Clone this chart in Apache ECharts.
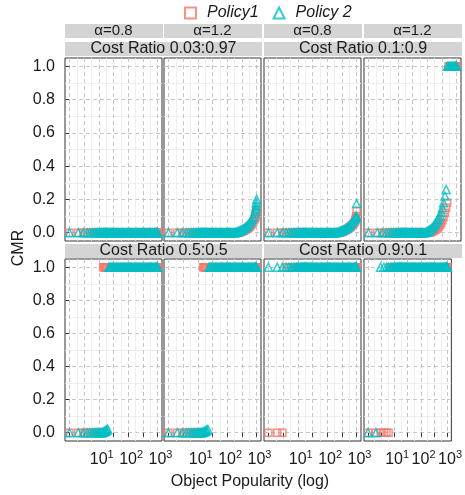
<!DOCTYPE html>
<html>
<head>
<meta charset="utf-8">
<script src="https://cdn.jsdelivr.net/npm/echarts@6/dist/echarts.min.js"></script>
<style>
html, body { margin: 0; padding: 0; background: #fff; }
#chart { width: 465px; height: 495px; }
</style>
</head>
<body>
<div id="chart"></div>
<script>
// Object popularity (request count) sampled along the x axis
const popularity = [
  1, 2, 3, 4, 5, 6, 7, 8, 9, 10,
  11, 12, 13, 14, 15, 16, 17, 18, 19, 20,
  22, 24, 26, 28, 30, 33, 36, 40, 44, 48,
  53, 58, 64, 70, 77, 85, 93, 100, 110, 120,
  130, 145, 160, 175, 190, 210, 230, 250, 275, 300,
  330, 360, 400, 440, 480, 530, 580, 640, 700, 770,
  850, 900, 930, 960, 980, 1000
];

const seriesNames = ['Policy1', 'Policy 2'];
const alphaLabels = ['α=0.8', 'α=1.2', 'α=0.8', 'α=1.2'];
const costRatioLabels = [
  ['Cost Ratio 0.03:0.97', 'Cost Ratio 0.1:0.9'],
  ['Cost Ratio 0.5:0.5', 'Cost Ratio 0.9:0.1']
];
const yTicks = [0, 0.2, 0.4, 0.6, 0.8, 1.0];
const yMinorTicks = [0.1, 0.3, 0.5, 0.7, 0.9];
const xTickExponents = [0, 0.5, 1, 1.5, 2, 2.5, 3];
const xMinorExponents = [0.25, 0.75, 1.25, 1.75, 2.25, 2.75];
const xLabelExponents = [1, 2, 3];

// CMR, cost ratio 0.03:0.97, alpha 0.8
const cmrA_policy1 = [
  0,0,0,0,0,0,0,0,0,0,
  0,0,0,0,0,0,0,0,0,0,
  0,0,0,0,0,0,0,0,0,0,
  0,0,0,0,0,0,0,0,0,0,
  0,0,0,0,0,0,0,0,0,0,
  0,0,0,0,0,0,0,0,0,0,
  0,0,0,0,0,0
];
const cmrA_policy2 = [
  0,0,0,0,0,0,0,0,0,0,
  0,0,0,0,0,0,0,0,0,0,
  0,0,0,0,0,0,0,0,0,0,
  0,0,0,0,0,0,0,0,0,0,
  0,0,0,0,0,0,0,0,0,0,
  0,0,0,0,0,0,0,0,0,0,
  0,0,0,0,0,0
];
// CMR, cost ratio 0.03:0.97, alpha 1.2
const cmrB_policy1 = [
  0,0,0,0,0,0,0,0,0,0,
  0,0,0,0,0,0,0,0,0,0,
  0,0,0,0,0,0,0,0,0,0,
  0,0,0,0,0,0,0,0,0,0,
  0,0,0,0,0,0,0,0,0.003,0.006,
  0.009,0.012,0.016,0.02,0.025,0.03,0.036,0.044,0.053,0.065,
  0.08,0.09,0.1,0.115,0.125,0.14
];
const cmrB_policy2 = [
  0,0,0,0,0,0,0,0,0,0,
  0,0,0,0,0,0,0,0,0,0,
  0,0,0,0,0,0,0,0,0,0,
  0,0,0,0,0,0,0,0,0,0,
  0,0,0,0,0,0.003,0.006,0.009,0.012,0.015,
  0.019,0.023,0.028,0.034,0.04,0.048,0.057,0.068,0.08,0.095,
  0.115,0.13,0.145,0.16,0.18,0.2
];
// CMR, cost ratio 0.1:0.9, alpha 0.8
const cmrC_policy1 = [
  0,0,0,0,0,0,0,0,0,0,
  0,0,0,0,0,0,0,0,0,0,
  0,0,0,0,0,0,0,0,0,0,
  0,0,0,0,0,0,0,0,0,0,
  0,0,0,0,0,0,0,0,0,0.003,
  0.006,0.009,0.013,0.017,0.021,0.026,0.031,0.037,0.044,0.052,
  0.062,0.07,0.08,0.09,0.1,0.13
];
const cmrC_policy2 = [
  0,0,0,0,0,0,0,0,0,0,
  0,0,0,0,0,0,0,0,0,0,
  0,0,0,0,0,0,0,0,0,0,
  0,0,0,0,0,0,0,0,0,0,
  0,0,0,0,0,0,0.003,0.005,0.008,0.01,
  0.013,0.016,0.02,0.025,0.03,0.035,0.042,0.05,0.058,0.068,
  0.08,0.088,0.093,0.098,0.1,0.175
];
// CMR, cost ratio 0.1:0.9, alpha 1.2
const cmrD_policy1 = [
  0,0,0,0,0,0,0,0,0,0,
  0,0,0,0,0,0,0,0,0,0,
  0,0,0,0,0,0,0,0,0,0,
  0,0,0,0,0,0,0,0,0,0,
  0.003,0.006,0.01,0.014,0.018,0.023,0.03,0.037,0.047,0.058,
  0.075,0.095,0.12,0.15,0.18,1,1,1,1,1,
  1,1,1,1,1,1
];
const cmrD_policy2 = [
  0,0,0,0,0,0,0,0,0,0,
  0,0,0,0,0,0,0,0,0,0,
  0,0,0,0,0,0,0,0,0,0,
  0,0,0,0,0,0,0.003,0.006,0.01,0.015,
  0.02,0.028,0.036,0.045,0.055,0.066,0.078,0.09,0.105,0.125,
  0.15,0.18,0.22,0.26,1,1,1,1,1,1,
  1,1,1,1,1,1
];
// CMR, cost ratio 0.5:0.5, alpha 0.8
const cmrE_policy1 = [
  0,0,0,0,0,0,0,0,0,0,
  0,0,0,1,1,1,1,1,1,1,
  1,1,1,1,1,1,1,1,1,1,
  1,1,1,1,1,1,1,1,1,1,
  1,1,1,1,1,1,1,1,1,1,
  1,1,1,1,1,1,1,1,1,1,
  1,1,1,1,1,1
];
const cmrE_policy2 = [
  0,0,0,0,0,0,0,0,0,0,
  0,0,0,0.004,0.006,0.008,0.011,0.014,0.018,0.022,
  1,1,1,1,1,1,1,1,1,1,
  1,1,1,1,1,1,1,1,1,1,
  1,1,1,1,1,1,1,1,1,1,
  1,1,1,1,1,1,1,1,1,1,
  1,1,1,1,1,1
];
// CMR, cost ratio 0.5:0.5, alpha 1.2
const cmrF_policy1 = [
  0,0,0,0,0,0,0,0,0,0,
  0,0,0,0,1,1,1,1,1,1,
  1,1,1,1,1,1,1,1,1,1,
  1,1,1,1,1,1,1,1,1,1,
  1,1,1,1,1,1,1,1,1,1,
  1,1,1,1,1,1,1,1,1,1,
  1,1,1,1,1,1
];
const cmrF_policy2 = [
  0,0,0,0,0,0,0,0,0,0,
  0,0,0,0,0.003,0.005,0.007,0.009,0.012,0.016,
  0.02,1,1,1,1,1,1,1,1,1,
  1,1,1,1,1,1,1,1,1,1,
  1,1,1,1,1,1,1,1,1,1,
  1,1,1,1,1,1,1,1,1,1,
  1,1,1,1,1,1
];
// CMR, cost ratio 0.9:0.1, alpha 0.8
const cmrG_policy1 = [
  0,0,0,1,1,1,1,1,1,1,
  1,1,1,1,1,1,1,1,1,1,
  1,1,1,1,1,1,1,1,1,1,
  1,1,1,1,1,1,1,1,1,1,
  1,1,1,1,1,1,1,1,1,1,
  1,1,1,1,1,1,1,1,1,1,
  1,1,1,1,1,1
];
const cmrG_policy2 = [
  1,1,1,1,1,1,1,1,1,1,
  1,1,1,1,1,1,1,1,1,1,
  1,1,1,1,1,1,1,1,1,1,
  1,1,1,1,1,1,1,1,1,1,
  1,1,1,1,1,1,1,1,1,1,
  1,1,1,1,1,1,1,1,1,1,
  1,1,1,1,1,1
];
// CMR, cost ratio 0.9:0.1, alpha 1.2
const cmrH_policy1 = [
  0,0,0,0,0,0,1,1,1,1,
  1,1,1,1,1,1,1,1,1,1,
  1,1,1,1,1,1,1,1,1,1,
  1,1,1,1,1,1,1,1,1,1,
  1,1,1,1,1,1,1,1,1,1,
  1,1,1,1,1,1,1,1,1,1,
  1,1,1,1,1,1
];
const cmrH_policy2 = [
  0,0,1,1,1,1,1,1,1,1,
  1,1,1,1,1,1,1,1,1,1,
  1,1,1,1,1,1,1,1,1,1,
  1,1,1,1,1,1,1,1,1,1,
  1,1,1,1,1,1,1,1,1,1,
  1,1,1,1,1,1,1,1,1,1,
  1,1,1,1,1,1
];

// panels in row-major order
const panelData = [
  [cmrA_policy1, cmrA_policy2], [cmrB_policy1, cmrB_policy2],
  [cmrC_policy1, cmrC_policy2], [cmrD_policy1, cmrD_policy2],
  [cmrE_policy1, cmrE_policy2], [cmrF_policy1, cmrF_policy2],
  [cmrG_policy1, cmrG_policy2], [cmrH_policy1, cmrH_policy2]
];

const FONT = '"Liberation Sans", Arial, Helvetica, sans-serif';
const TEXT = '#1a1a1a';
const RED = '#F8766D';
const TEAL = '#00BFC4';
const STRIP = '#D4D4D4';

const colLeft = [65, 164, 264, 364];
const panelW = 97;
const rowTop = [58, 259];
const panelH = [183, 182];
// shift so that the "10" base sits centred on its tick, with the exponent to the right
const labelNudge = 0.1;

const grids = [], xAxes = [], yAxes = [], series = [];

for (let r = 0; r < 2; r++) {
  for (let c = 0; c < 4; c++) {
    const g = r * 4 + c;
    grids.push({
      left: colLeft[c], top: rowTop[r], width: panelW, height: panelH[r],
      show: true, backgroundColor: '#fff', borderColor: '#333', borderWidth: 1
    });
    // major axis: half-decade ticks, dashed grid
    xAxes.push({
      gridIndex: g, type: 'value', min: -0.15, max: 3.15,
      axisLine: { show: false },
      axisTick: { show: r === 1, customValues: xTickExponents, length: 4,
                  lineStyle: { color: '#333', width: 1 } },
      axisLabel: {
        show: r === 1, customValues: xLabelExponents.map(e => e + labelNudge), margin: 8,
        interval: 0, hideOverlap: false,
        formatter: v => '{b|10}{sup|' + Math.round(v) + '}',
        rich: {
          b: { fontSize: 16, color: TEXT, fontFamily: FONT, verticalAlign: 'bottom' },
          sup: { fontSize: 11, color: TEXT, fontFamily: FONT, verticalAlign: 'bottom', padding: [0, 0, 8, 0] }
        }
      },
      splitLine: { show: true, lineStyle: { color: '#bfbfbf', width: 0.9, type: [4, 3] } }
    });
    // minor axis: light grid lines between the major ones
    xAxes.push({
      gridIndex: g, type: 'value', min: -0.15, max: 3.15, position: 'bottom',
      axisLine: { show: false },
      axisTick: { show: false, customValues: xMinorExponents },
      axisLabel: { show: false },
      splitLine: { show: true, lineStyle: { color: '#ebebeb', width: 0.8 } }
    });
    yAxes.push({
      gridIndex: g, type: 'value', min: -0.05, max: 1.05,
      axisLine: { show: false },
      axisTick: { show: c === 0, customValues: yTicks, length: 4,
                  lineStyle: { color: '#333', width: 1 } },
      axisLabel: {
        show: c === 0, customValues: yTicks, margin: 10,
        formatter: v => v.toFixed(1),
        fontSize: 16, color: TEXT, fontFamily: FONT
      },
      splitLine: { show: true, lineStyle: { color: '#bfbfbf', width: 0.9, type: [4, 3] } }
    });
    yAxes.push({
      gridIndex: g, type: 'value', min: -0.05, max: 1.05, position: 'left',
      axisLine: { show: false },
      axisTick: { show: false, customValues: yMinorTicks },
      axisLabel: { show: false },
      splitLine: { show: true, lineStyle: { color: '#ebebeb', width: 0.8 } }
    });

    const [p1, p2] = panelData[g];
    series.push({
      name: seriesNames[0], type: 'scatter', xAxisIndex: 2 * g, yAxisIndex: 2 * g,
      symbol: 'rect', symbolSize: 7,
      itemStyle: { color: 'rgba(0,0,0,0)', borderColor: RED, borderWidth: 1.5 },
      data: popularity.map((p, i) => [Math.log10(p), p1[i]]),
      silent: true
    });
    series.push({
      name: seriesNames[1], type: 'scatter', xAxisIndex: 2 * g, yAxisIndex: 2 * g,
      symbol: 'triangle', symbolSize: 8,
      itemStyle: { color: 'rgba(0,0,0,0)', borderColor: TEAL, borderWidth: 1.5 },
      data: popularity.map((p, i) => [Math.log10(p), p2[i]]),
      silent: true
    });
  }
}

// facet strips and axis titles
const graphics = [];
for (let c = 0; c < 4; c++) {
  graphics.push({
    type: 'rect', shape: { x: colLeft[c], y: 24, width: panelW + 1, height: 14 },
    style: { fill: STRIP }, silent: true, z: -1
  });
  graphics.push({
    type: 'text', x: colLeft[c] + panelW / 2, y: 31,
    style: { text: alphaLabels[c], font: '15px ' + FONT, fill: TEXT,
             align: 'center', verticalAlign: 'middle' }, silent: true, z: -1
  });
}
const stripY = [42, 244];
for (let r = 0; r < 2; r++) {
  for (let k = 0; k < 2; k++) {
    const x0 = colLeft[2 * k];
    const w = colLeft[2 * k + 1] + panelW - x0 + 1;
    graphics.push({
      type: 'rect', shape: { x: x0, y: stripY[r], width: w, height: 14 },
      style: { fill: STRIP }, silent: true
    });
    graphics.push({
      type: 'text', x: x0 + w / 2, y: stripY[r] + 7,
      style: { text: costRatioLabels[r][k], font: '16px ' + FONT, fill: TEXT,
               align: 'center', verticalAlign: 'middle' }, silent: true
    });
  }
}
graphics.push({
  type: 'text', x: 19, y: 248, rotation: Math.PI / 2,
  style: { text: 'CMR', font: '16px ' + FONT, fill: TEXT, align: 'center', verticalAlign: 'middle' },
  silent: true
});
graphics.push({
  type: 'text', x: 250, y: 482,
  style: { text: 'Object Popularity (log)', font: '16px ' + FONT, fill: TEXT,
           align: 'center', verticalAlign: 'middle' },
  silent: true
});

const chart = echarts.init(document.getElementById('chart'), null, { renderer: 'canvas' });
chart.setOption({
  animation: false,
  backgroundColor: '#fff',
  textStyle: { fontFamily: FONT },
  legend: {
    top: 3, left: 182, itemWidth: 11, itemHeight: 11, itemGap: 14, padding: 2,
    data: [
      { name: seriesNames[0], icon: 'rect' },
      { name: seriesNames[1], icon: 'triangle' }
    ],
    textStyle: { fontSize: 16, fontStyle: 'italic', color: TEXT, fontFamily: FONT, padding: [0, 0, 0, 6] },
    selectedMode: false
  },
  grid: grids,
  xAxis: xAxes,
  yAxis: yAxes,
  series: series,
  graphic: graphics
});
</script>
</body>
</html>
